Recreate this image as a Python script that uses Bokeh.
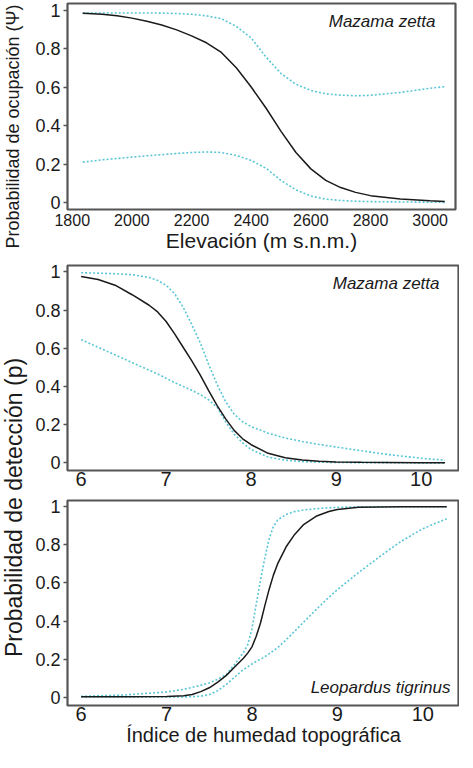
import math
from bokeh.plotting import figure
from bokeh.layouts import row, column
from bokeh.models import Range1d, FixedTicker, Label
from bokeh.core.properties import value
from bokeh.embed import file_html
from bokeh.resources import INLINE

FONT = "Liberation Sans"
BLACK = "#1a1a1a"
CYAN = "#5ac6d6"
FRAME = "#555555"
TXT = "#1a1a1a"

# ---------------- data ----------------
# Panel 1: occupancy vs elevation (Mazama zetta)
elev = [1835, 1900, 1950, 2000, 2050, 2100, 2150, 2200, 2250, 2300, 2350, 2400,
        2450, 2500, 2550, 2600, 2650, 2700, 2750, 2800, 2900, 3000, 3049]
psi = [0.983, 0.978, 0.970, 0.958, 0.942, 0.922, 0.897, 0.866, 0.83, 0.78, 0.70, 0.60,
       0.49, 0.37, 0.26, 0.175, 0.115, 0.078, 0.053, 0.036, 0.018, 0.009, 0.005]
psi_hi = [0.985, 0.985, 0.985, 0.985, 0.985, 0.984, 0.982, 0.978, 0.97, 0.955, 0.915, 0.855,
          0.755, 0.67, 0.615, 0.582, 0.565, 0.558, 0.555, 0.557, 0.572, 0.594, 0.602]
psi_lo = [0.21, 0.222, 0.229, 0.236, 0.243, 0.249, 0.255, 0.26, 0.263, 0.26, 0.245, 0.219,
          0.178, 0.115, 0.066, 0.034, 0.018, 0.011, 0.007, 0.005, 0.003, 0.002, 0.001]

# Panel 2: detection vs topographic wetness index (Mazama zetta)
twi2 = [6.0, 6.2, 6.4, 6.6, 6.8, 6.9, 7.0, 7.1, 7.2, 7.3, 7.4, 7.5, 7.6, 7.7, 7.8,
        7.9, 8.0, 8.2, 8.4, 8.6, 8.8, 9.0, 9.3, 9.6, 10.0, 10.28]
det2 = [0.975, 0.96, 0.93, 0.88, 0.825, 0.79, 0.74, 0.675, 0.605, 0.535, 0.46, 0.378,
        0.30, 0.23, 0.17, 0.126, 0.095, 0.05, 0.027, 0.015, 0.009, 0.005, 0.003, 0.002,
        0.001, 0.0]
det2_hi = [0.995, 0.993, 0.99, 0.985, 0.97, 0.955, 0.93, 0.885, 0.815, 0.725, 0.63, 0.515,
           0.41, 0.32, 0.255, 0.215, 0.19, 0.155, 0.13, 0.112, 0.096, 0.083, 0.063, 0.044,
           0.024, 0.014]
det2_lo = [0.645, 0.605, 0.565, 0.525, 0.485, 0.465, 0.443, 0.42, 0.4, 0.38, 0.358, 0.33,
           0.29, 0.215, 0.15, 0.105, 0.07, 0.03, 0.014, 0.007, 0.004, 0.002, 0.001, 0.001,
           0.0, 0.0]

# Panel 3: detection vs topographic wetness index (Leopardus tigrinus)
twi3 = [6.0, 6.5, 7.0, 7.2, 7.3, 7.4, 7.5, 7.6, 7.7, 7.8, 7.9, 7.95, 8.0, 8.05, 8.1,
        8.15, 8.2, 8.25, 8.3, 8.4, 8.5, 8.6, 8.75, 8.9, 9.0, 9.25, 9.5, 9.75, 10.0, 10.28]
det3 = [0.003, 0.003, 0.004, 0.008, 0.015, 0.03, 0.05, 0.08, 0.115, 0.16, 0.205, 0.232,
        0.265, 0.32, 0.39, 0.48, 0.565, 0.64, 0.70, 0.79, 0.855, 0.905, 0.95, 0.975,
        0.986, 0.997, 0.999, 1.0, 1.0, 1.0]
det3_hi = [0.005, 0.012, 0.028, 0.042, 0.052, 0.063, 0.075, 0.095, 0.12, 0.175, 0.235,
           0.275, 0.36, 0.49, 0.615, 0.73, 0.83, 0.895, 0.93, 0.96, 0.975, 0.983, 0.99,
           0.995, 0.997, 1.0, 1.0, 1.0, 1.0, 1.0]
det3_lo = [0.002, 0.002, 0.002, 0.002, 0.003, 0.006, 0.014, 0.035, 0.068, 0.108, 0.145,
           0.16, 0.175, 0.188, 0.2, 0.213, 0.228, 0.244, 0.26, 0.302, 0.347, 0.392, 0.46,
           0.525, 0.565, 0.655, 0.74, 0.82, 0.885, 0.937]

y_ticks = [0, 0.2, 0.4, 0.6, 0.8, 1]
y_tick_labels = ["0", "0.2", "0.4", "0.6", "0.8", "1"]
x1_ticks = [1800, 2000, 2200, 2400, 2600, 2800, 3000]
x2_ticks = [6, 7, 8, 9, 10]

# ---------------- helpers ----------------
def make_panel(xr, yr, fw, fh, mb_left, mb_top, mb_bottom, xticks, xfont, xstand):
    p = figure(frame_width=fw, frame_height=fh,
               x_range=Range1d(*xr), y_range=Range1d(*yr),
               output_backend="svg", toolbar_location=None,
               min_border_left=mb_left, min_border_right=2,
               min_border_top=mb_top, min_border_bottom=mb_bottom,
               background_fill_color="white", border_fill_color="white")
    p.grid.visible = False
    p.outline_line_color = FRAME
    p.outline_line_width = 2.2
    p.outline_line_alpha = 1.0

    xa = p.xaxis[0]
    xa.ticker = FixedTicker(ticks=xticks)
    xa.major_tick_out = 0
    xa.major_tick_in = 0
    xa.minor_tick_out = 0
    xa.minor_tick_in = 0
    xa.axis_line_color = None
    xa.major_label_text_font = FONT
    xa.major_label_text_font_size = xfont
    xa.major_label_text_color = TXT
    xa.major_label_standoff = xstand

    ya = p.yaxis[0]
    ya.ticker = FixedTicker(ticks=y_ticks)
    ya.major_tick_out = 4
    ya.major_tick_in = 0
    ya.minor_tick_out = 0
    ya.minor_tick_in = 0
    ya.major_tick_line_color = FRAME
    ya.major_tick_line_width = 1.5
    ya.axis_line_color = None
    ya.major_label_text_font = FONT
    ya.major_label_text_font_size = "18px"
    ya.major_label_text_color = TXT
    ya.major_label_standoff = 3
    ya.major_label_overrides = {t: s for t, s in zip(y_ticks, y_tick_labels)}
    return p


def curves(p, x, mid, hi, lo):
    p.line(x, hi, line_color=CYAN, line_width=1.6, line_dash="2 2")
    p.line(x, lo, line_color=CYAN, line_width=1.6, line_dash="2 2")
    p.line(x, mid, line_color=BLACK, line_width=1.5)


def px_x(xr, fw, px_from_right):
    return xr[1] - px_from_right * (xr[1] - xr[0]) / fw


def px_y_top(yr, fh, px_from_top):
    return yr[1] - px_from_top * (yr[1] - yr[0]) / fh


def px_y_bottom(yr, fh, px_from_bottom):
    return yr[0] + px_from_bottom * (yr[1] - yr[0]) / fh


# ---------------- panel 1 ----------------
xr1, yr1 = (1784, 3085), (-0.036, 1.034)
fw1, fh1 = 388, 206
p1 = make_panel(xr1, yr1, fw1, fh1, 37, 3, 46, x1_ticks, "16px", 4)
p1.xaxis.axis_label = "Elevación (m s.n.m.)"
p1.xaxis.axis_label_text_font = FONT
p1.xaxis.axis_label_text_font_size = "21px"
p1.xaxis.axis_label_text_font_style = "normal"
p1.xaxis.axis_label_text_color = TXT
p1.xaxis.axis_label_standoff = 0
curves(p1, elev, psi, psi_hi, psi_lo)
p1.add_layout(Label(x=px_x(xr1, fw1, 20), y=px_y_top(yr1, fh1, 8), text="Mazama zetta",
                    text_align="right", text_baseline="top", text_font=FONT,
                    text_font_style="italic", text_font_size="17px", text_color=TXT))

# ---------------- panel 2 ----------------
xr2, yr2 = (5.84, 10.45), (-0.04, 1.033)
fw2, fh2 = 392, 205
p2 = make_panel(xr2, yr2, fw2, fh2, 33, 10, 26, x2_ticks, "20px", 1)
curves(p2, twi2, det2, det2_hi, det2_lo)
p2.add_layout(Label(x=px_x(xr2, fw2, 20), y=px_y_top(yr2, fh2, 8), text="Mazama zetta",
                    text_align="right", text_baseline="top", text_font=FONT,
                    text_font_style="italic", text_font_size="17px", text_color=TXT))

# ---------------- panel 3 ----------------
xr3, yr3 = (5.84, 10.43), (-0.043, 1.033)
fw3, fh3 = 392, 205
p3 = make_panel(xr3, yr3, fw3, fh3, 33, 4, 47, x2_ticks, "20px", 1)
p3.xaxis.axis_label = "Índice de humedad topográfica"
p3.xaxis.axis_label_text_font = FONT
p3.xaxis.axis_label_text_font_size = "20px"
p3.xaxis.axis_label_text_font_style = "normal"
p3.xaxis.axis_label_text_color = TXT
p3.xaxis.axis_label_standoff = 0
curves(p3, twi3, det3, det3_hi, det3_lo)
p3.add_layout(Label(x=px_x(xr3, fw3, 9), y=px_y_bottom(yr3, fh3, 18), text="Leopardus tigrinus",
                    text_align="right", text_baseline="alphabetic", text_font=FONT,
                    text_font_style="italic", text_font_size="17px", text_color=TXT))

# ---------------- left label strip ----------------
H = 752
lab = figure(width=30, height=H, x_range=Range1d(0, 30), y_range=Range1d(0, H),
             min_border=0, x_axis_location=None, y_axis_location=None,
             toolbar_location=None, output_backend="svg",
             background_fill_color="white", border_fill_color="white")
lab.outline_line_color = None
lab.grid.visible = False
lab.text(x=[12], y=[H - 126], text=["Probabilidad de ocupación (Ψ)"], angle=math.pi / 2,
         text_align="center", text_baseline="middle", text_font=value(FONT),
         text_font_size=value("18px"), text_color=TXT)
lab.text(x=[13], y=[H - 507], text=["Probabilidad de detección (p)"], angle=math.pi / 2,
         text_align="center", text_baseline="middle", text_font=value(FONT),
         text_font_size=value("23px"), text_color=TXT)

layout = row(lab, column(p1, p2, p3))

open("out.html", "w").write(file_html(layout, INLINE))
